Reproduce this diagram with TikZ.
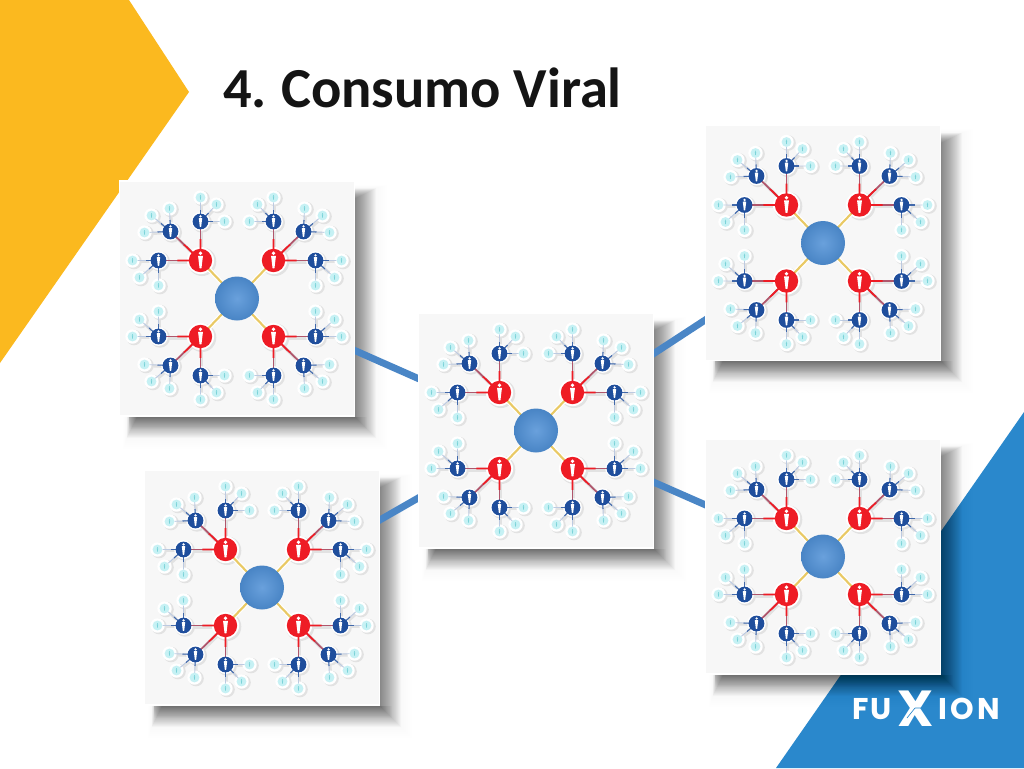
\documentclass[tikz,border=0pt]{standalone}
\usepackage{fontspec}
\usetikzlibrary{calc}
\setmainfont{Carlito}
\newfontfamily\logofont{Poppins}
\definecolor{yel}{HTML}{FBB91F}
\definecolor{corner}{HTML}{2A88CC}
\definecolor{conn}{HTML}{4A86C6}
\definecolor{cardface}{HTML}{F7F7F7}
\definecolor{hubc}{HTML}{4F90D6}
\definecolor{redc}{HTML}{EE1C25}
\definecolor{bluec}{HTML}{1F4E9C}
\definecolor{leafc}{HTML}{C6F1F4}
\definecolor{leafp}{HTML}{7CD3D9}
\definecolor{gold}{HTML}{E9C964}
\definecolor{halogray}{HTML}{E2E2E2}
\definecolor{redfade}{HTML}{B0566C}
\tikzset{
  cardbox/.style={rectangle,minimum size=176.5pt,inner sep=0pt,fill=cardface,draw=white,line width=1.2pt},
  hubnode/.style={circle,minimum size=33pt,inner sep=0pt,inner color=hubc!85!white,outer color=hubc!92!black},
  rednode/.style={circle,minimum size=17.5pt,inner sep=0pt,fill=redc},
  bluenode/.style={circle,minimum size=11.8pt,inner sep=0pt,fill=bluec},
  leafnode/.style={circle,minimum size=7.4pt,inner sep=0pt,fill=leafc},
  connector/.style={conn,line width=5.2pt},
  halo/.style={fill=white},
  halosh/.style={fill=halogray},
  linkhalosh/.style={halogray,line width=2.4pt},
}
\newcommand{\persona}[3]{%
  \fill[#3,shift={(#1)},scale=#2] (0,-7.6) circle (1.9)
    (-2.6,-5) -- (2.6,-5) -- (1.9,0.6) -- (1,8.2) -- (-1,8.2) -- (-1.9,0.6) -- cycle;}
\newcommand{\walk}{%
  \foreach \q/\sx/\sy in {1/-1/-1,2/1/-1,3/-1/1,4/1/1}{%
    \def\rn{\c r\q}\redstep
    \foreach \b/\dx/\dy/\lv in {1/42/0/{26/0,19/-17,0/-25},2/30/29/{26/-1,19/16,1/23},3/0/39/{0/24,-16/17,-24/0}}{%
      \def\bn{\c b\q\b}\bluestep
      \foreach \lx/\ly [count=\l] in \lv {%
        \def\ln{\c l\q\b\l}\leafstep
      }%
    }%
  }%
}
\newcommand{\cluster}[3]{%
  \def\c{#1}\def\cx{#2}\def\cy{#3}%
  \def\redstep{\coordinate (\rn) at ({\cx+\sx*36.5},{\cy+\sy*38});}%
  \def\bluestep{\coordinate (\bn) at ([shift={({\sx*\dx},{\sy*\dy})}]\rn);}%
  \def\leafstep{\coordinate (\ln) at ([shift={({\sx*\lx},{\sy*\ly})}]\bn);}%
  \walk
  \def\redstep{\fill[halosh] ([shift={(1.5,1.2)}]\rn) circle (14.3);\draw[white,line width=3.4pt] (\c h) -- (\rn);}%
  \def\bluestep{\draw[linkhalosh] ([shift={(1.2,1.4)}]\rn) -- ([shift={(1.2,1.4)}]\bn);\fill[halosh] ([shift={(1.5,1.2)}]\bn) circle (10);}%
  \def\leafstep{\draw[linkhalosh,line width=2.2pt] ([shift={(1.2,1.2)}]\bn) -- ([shift={(1.2,1.2)}]\ln);\fill[halosh] ([shift={(1.5,1)}]\ln) circle (7.8);}%
  \walk
  \def\redstep{\fill[halo] (\rn) circle (13.6);}%
  \def\bluestep{\fill[halo] (\bn) circle (9.4);}%
  \def\leafstep{\fill[halo] (\ln) circle (7.2);}%
  \walk
  \def\redstep{\draw[gold,line width=1.6pt] (\c h) -- (\rn);}%
  \def\bluestep{\draw[redfade,line width=1.3pt] (\rn) -- (\bn);\draw[redc,line width=1.3pt] (\rn) -- ($(\rn)!0.55!(\bn)$);}%
  \def\leafstep{\draw[bluec!30!white,line width=0.7pt] (\bn) -- ($(\bn)!0.8!(\ln)$);\draw[bluec!85!white,line width=0.8pt] (\bn) -- ($(\bn)!0.5!(\ln)$);}%
  \walk
  \def\redstep{\node[rednode] (\rn) at (\rn) {};\persona{\rn}{0.95}{white}}%
  \def\bluestep{\node[bluenode] (\bn) at (\bn) {};\persona{\bn}{0.66}{white}}%
  \def\leafstep{\node[leafnode] (\ln) at (\ln) {};\persona{\ln}{0.25}{leafp}}%
  \walk
  \node[hubnode] (\c h) at (\cx,\cy) {};
}
\newcommand{\cardshadow}[2]{%
  \foreach \i in {2,4,...,32}{\fill[black,opacity=0.004] (#1-104-0.3*\i,#2-104-0.3*\i) rectangle (#1+118+\i,#2+118+\i);}%
  \foreach \i in {1,...,21}{\fill[black,opacity=0.022] (#1-100-0.5*\i,#2-100-0.5*\i) rectangle (#1+118+\i,#2+118+\i);}%
  \foreach \i in {1,...,12}{\fill[black,opacity=0.012] (#1-108,#2+118) rectangle (#1+118+\i,#2+118+\i);}}
\begin{document}
\begin{tikzpicture}[x=0.75pt,y=-0.75pt]
\useasboundingbox (0,0) rectangle (1024,768);
\fill[white] (0,0) rectangle (1024,768);
\fill[yel] (0,0) -- (129,0) -- (189,92) -- (0,363) -- cycle;
\fill[corner] (1024,412) -- (776,768) -- (1024,768) -- cycle;
\node[anchor=base west,inner sep=0pt,font=\bfseries\fontsize{42.4}{42.4}\selectfont,text=black!92] (title) at (223,107) {4.\kern-2.2pt{} Consumo Viral};
\coordinate (ca) at (237,298.5);
\coordinate (cb) at (262,587.5);
\coordinate (cc) at (536,430.5);
\coordinate (cd) at (823,243);
\coordinate (ce) at (823,556.5);
\coordinate (cah) at (237,298.5);
\coordinate (cbh) at (262,587.5);
\coordinate (cch) at (536,430.5);
\coordinate (cdh) at (823,243);
\coordinate (ceh) at (823,556.5);
\cardshadow{237}{298.5}
\cardshadow{262}{587.5}
\cardshadow{536}{430.5}
\cardshadow{823}{243}
\cardshadow{823}{556.5}
\draw[connector] (ca) -- (cc);
\draw[connector] (cb) -- (cc);
\draw[connector] (cd) -- (cc);
\draw[connector] (ce) -- (cc);
\node[cardbox] (ca) at (ca) {};
\node[cardbox] (cb) at (cb) {};
\node[cardbox] (cc) at (cc) {};
\node[cardbox] (cd) at (cd) {};
\node[cardbox] (ce) at (ce) {};
\cluster{ca}{237}{298.5}
\cluster{cb}{262}{587.5}
\cluster{cc}{536}{430.5}
\cluster{cd}{823}{243}
\cluster{ce}{823}{556.5}
\node[anchor=base west,inner sep=0pt,text=white,font=\logofont\bfseries\fontsize{22.5}{22.5}\selectfont] (logoa) at (852,719) {F\kern1.5pt U};
\node[anchor=base,inner sep=0pt,text=white,font=\logofont\bfseries\fontsize{38}{38}\selectfont] (logob) at (916,726) {X};
\node[anchor=base east,inner sep=0pt,text=white,font=\logofont\bfseries\fontsize{22.5}{22.5}\selectfont] (logoc) at (1000,719) {I\kern2.5pt O\kern2.5pt N};
\draw[corner,line width=0.5pt] (915,708) -- (927,708) (915,708) -- (907,718);
\end{tikzpicture}
\end{document}
